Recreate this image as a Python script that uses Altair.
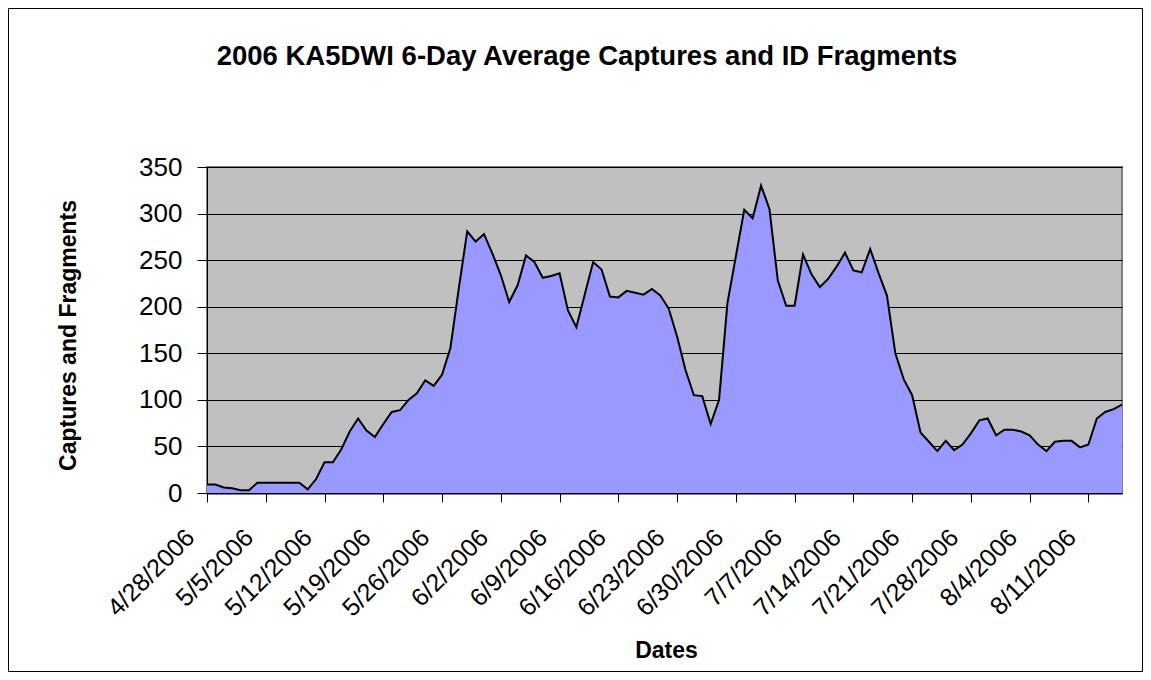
import altair as alt
import pandas as pd

start_date = "2006-04-28"
values = [9, 9, 6, 5, 3, 3, 11, 11, 11, 11, 11, 11, 4, 15, 33, 33, 47, 66, 80, 67,
          60, 74, 87, 89, 100, 107, 121, 115, 127, 156, 220, 281, 270, 278, 257, 234, 205, 223, 255, 248,
          231, 233, 236, 196, 178, 213, 248, 240, 211, 210, 217, 215, 213, 219, 212, 198, 168, 132, 105, 104,
          74, 100, 204, 254, 304, 295, 330, 305, 228, 201, 201, 256, 235, 221, 230, 243, 258, 239, 237, 262,
          236, 212, 150, 122, 105, 65, 55, 45, 56, 46, 52, 64, 78, 80, 62, 68, 68, 66, 62, 52,
          45, 55, 56, 56, 49, 52, 80, 87, 90, 95]
dates = pd.date_range(start_date, periods=len(values), freq="D").strftime("%Y-%m-%d").tolist()
tick_dates = ["2006-04-28", "2006-05-05", "2006-05-12", "2006-05-19", "2006-05-26", "2006-06-02",
              "2006-06-09", "2006-06-16", "2006-06-23", "2006-06-30", "2006-07-07", "2006-07-14",
              "2006-07-21", "2006-07-28", "2006-08-04", "2006-08-11"]
y_ticks = [0, 50, 100, 150, 200, 250, 300, 350]
title_text = "2006 KA5DWI 6-Day Average Captures and ID Fragments"

df = pd.DataFrame({"date": dates, "value": values})

W, H = 915, 326
PL, PT, PR, PB = 199, 159, 21, 179

def dt(s):
    y, m, d = map(int, s.split("-"))
    return alt.DateTime(year=y, month=m, date=d, utc=True)

FONT = "Liberation Sans"

x_enc = alt.X("date:T",
              scale=alt.Scale(type="utc", domain=[dt(dates[0]), dt(dates[-1])], nice=False),
              axis=alt.Axis(values=[dt(s) for s in tick_dates],
                            labelExpr="utcFormat(datum.value, '%-m/%-d/%Y')",
                            labelAngle=315, labelAlign="right", labelBaseline="middle",
                            labelFontSize=25, labelFont=FONT, labelColor="black", labelPadding=31,
                            labelOffset=-17,
                            tickColor="black", tickSize=9, domainColor="black", domainWidth=2,
                            grid=False, labelOverlap=False, labelFlush=False,
                            title="Dates", titleFont=FONT, titleFontSize=23, titleFontWeight="bold",
                            titleX=459, titleY=157, titleAlign="center", titleBaseline="middle",
                            titleColor="black"))
y_enc = alt.Y("value:Q",
              scale=alt.Scale(domain=[0, 350], nice=False),
              axis=alt.Axis(values=y_ticks, labelFontSize=26, labelFont=FONT, labelColor="black",
                            labelPadding=15, tickColor="black", tickSize=10, domainColor="black",
                            gridColor="black", gridWidth=1, grid=True,
                            title="Captures and Fragments", titleFont=FONT, titleFontSize=23,
                            titleFontWeight="bold", titleColor="black", titleAngle=270,
                            titleX=-139, titleY=168, titleAlign="center", titleBaseline="middle"))

area = alt.Chart(df).mark_area(color="#9999FF", opacity=1,
                               line={"color": "black", "strokeWidth": 2}).encode(x=x_enc, y=y_enc)

frame = alt.Chart(pd.DataFrame({"a": [0]})).mark_rect(fill=None, stroke="black", strokeWidth=1).encode(
    x=alt.value(-PL + 0.5), x2=alt.value(W + PR - 0.5),
    y=alt.value(-PT + 0.5), y2=alt.value(H + PB - 0.5))

title = alt.Chart(pd.DataFrame({"t": [title_text]})).mark_text(
    font=FONT, fontSize=27.5, fontWeight="bold", color="black", align="center", baseline="middle").encode(
    text="t:N", x=alt.value(380), y=alt.value(-110))

chart = alt.layer(area, frame, title).properties(
    width=W, height=H,
    padding={"left": PL, "top": PT, "right": PR, "bottom": PB},
    autosize=alt.AutoSizeParams(type="none"),
    background="white",
).configure_view(fill="#C0C0C0", stroke="#808080", strokeWidth=2)

chart.save("out.html", embed_options={"renderer": "svg", "actions": False})
